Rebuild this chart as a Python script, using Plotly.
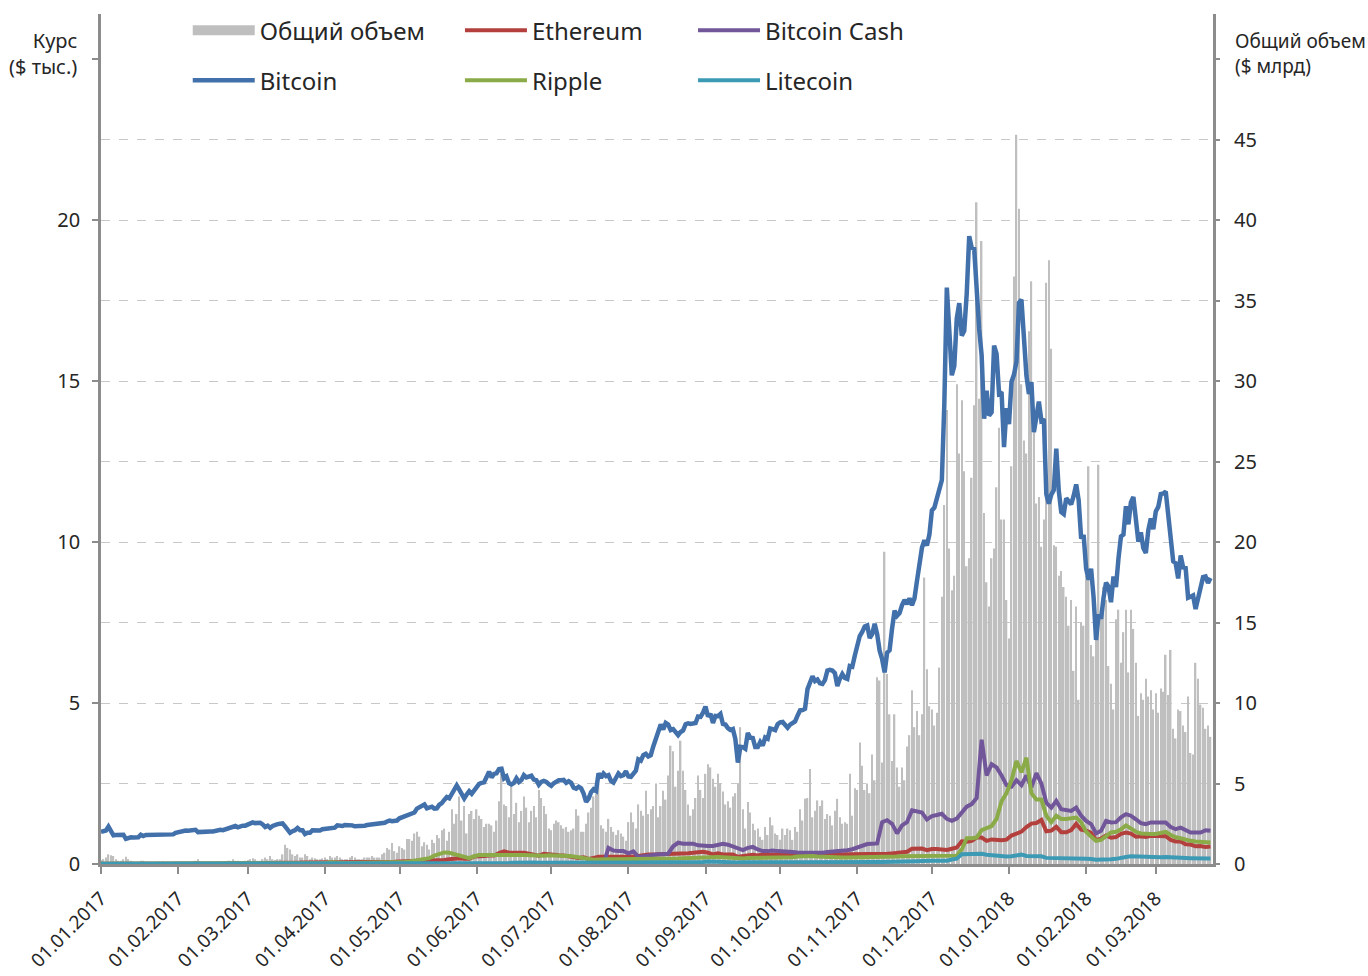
import pandas as pd
import plotly.graph_objects as go

# ---------------- DATA ----------------
# Bitcoin daily close, $ thousands (01.01.2017 .. 23.03.2018)
btc_2017_01 = [1.00,1.02,1.04,1.16,1.01,0.89,0.90,0.91,0.90,0.91,0.78,0.81,0.83,0.82,0.82,0.83,0.91,0.87,0.90,0.90,0.92,0.92,0.92,0.89,0.89,0.92,0.92,0.92,0.91,0.92,0.97]
btc_2017_02 = [0.99,1.01,1.03,1.04,1.03,1.05,1.06,1.06,0.99,1.00,1.01,1.00,1.00,1.01,1.01,1.03,1.05,1.06,1.05,1.08,1.12,1.12,1.18,1.18,1.14,1.18,1.19,1.19]
btc_2017_03 = [1.22,1.26,1.29,1.27,1.27,1.28,1.23,1.15,1.19,1.12,1.18,1.23,1.24,1.25,1.26,1.17,1.07,0.97,1.02,1.05,1.12,1.05,1.05,0.93,0.97,0.97,1.05,1.05,1.04,1.04,1.08]
btc_2017_04 = [1.09,1.10,1.14,1.14,1.13,1.20,1.19,1.18,1.21,1.21,1.22,1.20,1.17,1.17,1.17,1.18,1.19,1.21,1.22,1.25,1.26,1.24,1.25,1.27,1.28,1.32,1.35,1.33,1.35,1.35]
btc_2017_05 = [1.42,1.45,1.49,1.54,1.56,1.58,1.60,1.72,1.76,1.79,1.85,1.73,1.77,1.78,1.72,1.73,1.84,1.89,1.99,2.08,2.04,2.17,2.32,2.44,2.31,2.20,2.04,2.16,2.26,2.18,2.29]
btc_2017_06 = [2.41,2.49,2.52,2.54,2.70,2.87,2.69,2.80,2.82,2.95,2.96,2.66,2.72,2.51,2.47,2.52,2.66,2.55,2.61,2.76,2.69,2.71,2.74,2.62,2.60,2.46,2.55,2.58,2.55,2.48]
btc_2017_07 = [2.43,2.51,2.56,2.60,2.60,2.61,2.52,2.57,2.52,2.37,2.34,2.40,2.35,2.19,1.93,2.03,2.23,2.32,2.27,2.82,2.67,2.81,2.73,2.76,2.58,2.53,2.67,2.81,2.73,2.76,2.88]
btc_2017_08 = [2.72,2.71,2.81,2.90,3.25,3.21,3.38,3.42,3.34,3.38,3.65,3.88,4.07,4.33,4.18,4.38,4.33,4.16,4.19,4.09,4.00,4.10,4.15,4.34,4.37,4.35,4.38,4.38,4.58,4.57,4.70]
btc_2017_09 = [4.89,4.58,4.66,4.38,4.60,4.59,4.66,4.35,4.33,4.22,4.16,4.19,3.88,3.15,3.64,3.63,3.58,4.07,3.92,3.91,3.63,3.63,3.79,3.68,3.93,3.89,4.21,4.19,4.16,4.34]
btc_2017_10 = [4.40,4.41,4.32,4.23,4.33,4.37,4.43,4.61,4.77,4.78,4.82,5.43,5.64,5.83,5.68,5.73,5.61,5.59,5.71,6.01,6.03,6.01,5.93,5.53,5.75,5.90,5.78,5.75,6.15,6.13,6.47]
btc_2017_11 = [6.77,7.08,7.21,7.38,7.41,7.02,7.14,7.46,7.14,6.62,6.36,5.95,6.56,6.64,7.32,7.87,7.71,7.79,8.04,8.20,8.07,8.25,8.04,8.25,8.79,9.33,9.82,10.06,9.89,10.23]
btc_2017_12 = [10.98,11.07,11.32,11.66,11.92,14.29,17.90,16.57,15.18,15.46,16.94,17.42,16.41,16.56,17.71,19.50,19.14,19.11,17.78,16.62,15.80,13.83,14.70,13.93,14.03,16.10,15.84,14.61,14.66,12.95,14.16]
btc_2018_01 = [13.66,14.98,15.20,15.60,17.43,17.53,16.48,15.17,14.60,14.97,13.41,13.98,14.36,13.77,13.82,11.49,11.19,11.47,11.61,12.90,11.60,10.93,10.87,11.36,11.26,11.17,11.44,11.79,11.30,10.11,10.22]
btc_2018_02 = [9.17,8.83,9.17,8.28,6.96,7.75,7.62,8.27,8.74,8.62,8.13,8.93,8.60,9.49,10.17,10.23,11.11,10.55,11.23,11.40,10.69,10.01,10.30,9.81,9.66,10.37,10.73,10.40]
btc_2018_03 = [10.95,11.09,11.49,11.51,11.57,10.78,9.97,9.40,9.34,8.87,9.58,9.21,9.19,8.27,8.30,8.34,7.92,8.22,8.63,8.91,8.93,8.73,8.88]

# Total daily volume, $ billions
vol_2017_01 = [0.25,0.3,0.4,0.6,0.55,0.5,0.3,0.2,0.2,0.3,0.45,0.3,0.2,0.15,0.1,0.15,0.2,0.2,0.15,0.1,0.1,0.1,0.1,0.15,0.1,0.15,0.1,0.1,0.1,0.1,0.15]
vol_2017_02 = [0.15,0.1,0.1,0.1,0.1,0.1,0.15,0.2,0.3,0.15,0.1,0.1,0.1,0.1,0.1,0.1,0.15,0.1,0.1,0.15,0.2,0.2,0.3,0.2,0.2,0.15,0.15,0.2]
vol_2017_03 = [0.25,0.3,0.35,0.3,0.2,0.2,0.3,0.4,0.3,0.5,0.3,0.25,0.3,0.3,0.6,1.2,1.0,0.9,0.6,0.5,0.6,0.4,0.4,0.6,0.5,0.3,0.4,0.35,0.3,0.3,0.35]
vol_2017_04 = [0.4,0.3,0.5,0.4,0.4,0.5,0.4,0.3,0.3,0.3,0.4,0.5,0.4,0.3,0.3,0.3,0.4,0.4,0.4,0.5,0.4,0.4,0.4,0.6,0.7,1.0,0.9,1.3,0.8,0.7]
vol_2017_05 = [1.1,1.0,0.9,1.55,1.55,1.45,1.9,2.0,1.7,1.1,1.35,1.2,0.9,1.5,1.3,1.8,1.6,2.1,2.2,1.45,2.0,3.4,2.5,3.1,4.2,2.7,3.6,1.9,3.1,3.3,2.8]
vol_2017_06 = [3.4,3.0,2.8,2.3,2.5,2.5,2.4,2.0,2.7,3.9,5.6,3.7,3.6,2.9,4.9,3.1,3.8,2.6,3.3,4.2,3.5,2.6,3.3,3.6,2.9,4.6,4.1,3.6,3.1,2.2]
vol_2017_07 = [2.1,2.5,2.7,2.6,2.4,2.2,2.3,2.0,2.1,2.2,3.4,3.0,2.0,2.0,2.5,3.2,3.5,4.2,4.35,5.0,2.4,2.2,2.0,2.8,2.3,2.0,1.8,2.1,1.9,1.7,1.45]
vol_2017_08 = [2.6,3.2,2.6,2.2,3.7,3.3,3.0,4.55,3.1,3.4,3.6,5.0,2.9,3.6,4.55,4.0,5.5,7.35,7.0,4.8,5.8,7.66,5.8,4.6,3.7,3.0,3.4,4.1,5.5,4.6,4.1]
vol_2017_09 = [5.6,6.2,6.0,5.3,4.8,5.6,5.0,4.5,3.7,3.9,3.5,4.2,4.4,5.0,8.5,3.4,2.2,3.85,3.2,2.5,2.1,2.2,1.7,1.5,2.3,1.8,2.9,2.4,1.9,1.8]
vol_2017_10 = [1.5,2.2,1.8,2.2,2.1,1.5,2.3,2.0,3.4,2.7,4.05,4.1,5.9,2.9,3.3,3.95,3.6,3.95,2.8,3.1,3.0,2.4,3.3,4.05,2.9,2.5,2.6,2.5,5.6,3.0,4.7]
vol_2017_11 = [4.6,7.55,6.1,4.6,5.0,4.4,6.8,5.2,11.6,11.4,6.3,19.4,11.8,9.3,6.4,9.3,6.0,4.8,6.0,5.2,7.3,8.0,10.8,8.5,9.5,8.0,9.3,17.8,12.1,9.8]
vol_2017_12 = [9.6,8.6,9.4,12.2,16.6,22.3,28.2,19.6,17.0,17.9,29.8,25.5,28.8,24.4,18.5,19.0,24.0,28.5,41.1,28.9,38.7,21.8,17.5,16.0,19.0,19.6,23.4,27.1,21.4,21.4,16.4]
vol_2018_01 = [14.0,24.7,36.5,45.3,40.7,29.8,26.3,25.5,33.1,36.2,28.0,22.4,22.8,19.7,21.4,36.1,37.5,32.0,19.8,19.7,17.9,18.2,17.2,16.6,14.8,16.4,12.0,16.0,10.2,15.0,14.8]
vol_2018_02 = [17.9,24.7,13.6,12.9,15.3,24.8,15.6,17.2,16.4,12.3,11.2,9.6,15.2,15.8,12.5,14.4,15.8,11.9,15.8,14.6,12.5,9.2,10.6,10.2,11.5,10.4,10.8,9.6]
vol_2018_03 = [10.6,9.4,10.9,10.7,13.0,10.5,13.3,8.4,7.8,9.6,9.5,8.6,8.2,10.4,6.9,6.8,12.5,11.5,9.9,9.7,8.4,8.6,7.9]

# Other coins every second day from 01.01.2017 (Ethereum, Litecoin: $ thousands; Ripple: $)
eth_2017_h1 = [0.008,0.0095,0.011,0.010,0.010,0.010,0.0105,0.0105,0.0103,0.0105,0.011,0.0107,0.0105,0.0106,0.0106,0.0107,
               0.0107,0.0112,0.0113,0.0114,0.0112,0.0113,0.0128,0.0125,0.0127,0.0128,0.0126,0.0127,0.0128,0.0157,
               0.019,0.019,0.020,0.019,0.021,0.024,0.029,0.044,0.043,0.042,0.043,0.050,0.050,0.049,0.050,
               0.050,0.044,0.043,0.043,0.044,0.043,0.046,0.048,0.048,0.048,0.048,0.050,0.054,0.063,0.068,
               0.078,0.080,0.094,0.088,0.088,0.088,0.088,0.090,0.094,0.125,0.148,0.172,0.178,0.160,0.162,0.230,
               0.222,0.245,0.265,0.262,0.336,0.395,0.349,0.359,0.354,0.352,0.320,0.302,0.260,0.315,0.293]
eth_2017_h2 = [0.285,0.270,0.266,0.240,0.236,0.190,0.206,0.155,0.190,0.227,0.227,0.225,0.205,0.200,0.197,
               0.225,0.225,0.253,0.270,0.296,0.297,0.300,0.299,0.302,0.300,0.316,0.319,0.333,0.347,0.372,0.383,
               0.350,0.296,0.335,0.297,0.293,0.297,0.225,0.247,0.285,0.283,0.262,0.295,0.289,0.302,0.302,
               0.298,0.292,0.308,0.308,0.297,0.336,0.336,0.314,0.300,0.298,0.297,0.298,0.296,0.298,0.307,
               0.291,0.305,0.300,0.293,0.320,0.306,0.316,0.330,0.355,0.367,0.381,0.474,0.472,0.480,0.427,
               0.466,0.465,0.456,0.434,0.473,0.512,0.702,0.694,0.719,0.820,0.822,0.718,0.763,0.740,0.738,0.756]
eth_2018 = [0.884,0.942,1.005,1.148,1.256,1.274,1.367,1.014,1.037,1.155,0.988,0.987,1.056,1.245,1.069,
            1.036,0.965,0.740,0.790,0.884,0.814,0.836,0.937,0.974,0.943,0.850,0.864,0.840,0.878,
            0.870,0.856,0.864,0.750,0.700,0.700,0.611,0.603,0.550,0.558,0.525,0.540]

xrp_2017_h1 = [0.006,0.006,0.007,0.007,0.007,0.007,0.007,0.007,0.007,0.007,0.007,0.007,0.007,0.007,0.007,0.007,
               0.007,0.007,0.007,0.007,0.007,0.007,0.007,0.007,0.006,0.006,0.006,0.006,0.006,0.006,
               0.006,0.006,0.006,0.007,0.008,0.009,0.009,0.010,0.009,0.008,0.008,0.009,0.011,0.014,0.022,
               0.027,0.057,0.040,0.030,0.032,0.032,0.033,0.032,0.032,0.034,0.037,0.034,0.036,0.045,0.050,
               0.05,0.06,0.08,0.10,0.12,0.15,0.18,0.26,0.31,0.36,0.35,0.31,0.26,0.22,0.18,0.24,
               0.28,0.28,0.27,0.27,0.28,0.28,0.27,0.27,0.28,0.28,0.27,0.28,0.27,0.26,0.27]
xrp_2017_h2 = [0.27,0.26,0.26,0.25,0.23,0.20,0.19,0.15,0.13,0.14,0.16,0.15,0.15,0.15,0.15,
               0.15,0.14,0.14,0.14,0.14,0.15,0.15,0.15,0.15,0.16,0.17,0.18,0.19,0.20,0.20,0.21,
               0.22,0.21,0.22,0.21,0.20,0.19,0.16,0.17,0.19,0.19,0.18,0.19,0.20,0.20,0.20,
               0.20,0.21,0.21,0.23,0.24,0.26,0.25,0.23,0.22,0.21,0.20,0.21,0.20,0.20,0.20,
               0.20,0.21,0.21,0.21,0.21,0.21,0.21,0.22,0.23,0.24,0.24,0.25,0.25,0.25,0.25,
               0.25,0.25,0.23,0.23,0.24,0.26,0.45,0.80,0.80,0.82,1.05,1.12,1.18,1.40,1.95,2.20]
xrp_2018 = [2.60,3.20,2.85,3.30,2.20,2.00,2.00,1.50,1.30,1.50,1.40,1.40,1.42,1.44,1.30,
            1.00,0.85,0.72,0.75,0.85,0.98,1.00,1.08,1.20,1.10,1.00,0.95,0.93,0.93,
            0.93,0.95,1.00,0.90,0.83,0.80,0.75,0.72,0.70,0.70,0.68,0.67]

ltc_2017_h1 = [0.004,0.004,0.004,0.004,0.004,0.004,0.004,0.004,0.004,0.004,0.004,0.004,0.004,0.004,0.004,0.004,
               0.004,0.004,0.004,0.004,0.004,0.004,0.004,0.004,0.004,0.004,0.004,0.004,0.004,0.004,
               0.004,0.004,0.004,0.004,0.004,0.004,0.004,0.004,0.004,0.004,0.004,0.004,0.005,0.006,0.007,
               0.008,0.009,0.009,0.010,0.010,0.010,0.011,0.012,0.012,0.012,0.014,0.015,0.015,0.015,0.015,
               0.015,0.018,0.022,0.028,0.028,0.028,0.025,0.024,0.023,0.025,0.025,0.024,0.023,0.023,0.023,0.025,
               0.027,0.030,0.031,0.032,0.031,0.030,0.034,0.041,0.048,0.046,0.046,0.043,0.041,0.043,0.042]
ltc_2017_h2 = [0.041,0.051,0.050,0.048,0.048,0.045,0.047,0.039,0.044,0.045,0.044,0.042,0.044,0.043,0.043,
               0.043,0.043,0.043,0.047,0.047,0.046,0.045,0.045,0.045,0.046,0.051,0.052,0.056,0.060,0.064,0.062,
               0.080,0.071,0.080,0.080,0.064,0.066,0.048,0.052,0.055,0.051,0.052,0.054,0.055,0.057,0.054,
               0.054,0.053,0.054,0.053,0.052,0.058,0.066,0.063,0.062,0.061,0.058,0.056,0.058,0.056,0.057,
               0.055,0.055,0.055,0.058,0.062,0.064,0.063,0.068,0.071,0.071,0.086,0.085,0.088,0.094,0.085,
               0.098,0.101,0.103,0.103,0.140,0.165,0.300,0.310,0.300,0.330,0.320,0.290,0.270,0.280,0.250,0.230]
ltc_2018 = [0.240,0.250,0.290,0.250,0.240,0.240,0.240,0.190,0.190,0.190,0.175,0.170,0.170,0.180,0.170,
            0.165,0.155,0.130,0.140,0.160,0.150,0.160,0.200,0.220,0.240,0.230,0.220,0.220,0.215,
            0.210,0.210,0.215,0.200,0.190,0.190,0.185,0.180,0.170,0.175,0.170,0.170]

# Bitcoin Cash, $ thousands, every second day from 02.06.2017
bch_2017 = [0,0,0,0,0,0,0,0,0,0,0,0,0,0,0,
            0,0,0,0,0,0,0,0,0,0,0,0.50,0.42,0.40,0.40,
            0.33,0.39,0.22,0.24,0.28,0.31,0.30,0.30,0.32,0.55,0.66,0.63,0.62,0.63,0.58,0.56,
            0.56,0.56,0.60,0.63,0.60,0.55,0.48,0.43,0.50,0.53,0.45,0.40,0.40,0.42,0.40,
            0.40,0.38,0.37,0.36,0.36,0.34,0.33,0.33,0.35,0.37,0.38,0.38,0.40,0.43,0.46,
            0.52,0.59,0.62,0.63,0.64,1.30,1.36,1.25,0.95,1.20,1.30,1.67,1.65,1.60,1.38,
            1.49,1.52,1.56,1.40,1.34,1.41,1.60,1.78,1.86,2.05,3.86,2.75,3.10,3.00,2.75,2.45]
bch_2018 = [2.40,2.60,2.45,2.75,2.38,2.82,2.50,1.90,1.75,1.96,1.70,1.68,1.65,1.75,1.50,
            1.34,1.24,0.95,1.03,1.34,1.29,1.30,1.45,1.55,1.50,1.39,1.27,1.24,1.29,
            1.29,1.29,1.29,1.15,1.08,1.13,1.05,0.98,0.98,0.98,1.05,1.03]

month_ticks = ['2017-01-01','2017-02-01','2017-03-01','2017-04-01','2017-05-01','2017-06-01','2017-07-01',
               '2017-08-01','2017-09-01','2017-10-01','2017-11-01','2017-12-01','2018-01-01','2018-02-01','2018-03-01']
month_labels = ['01.01.2017','01.02.2017','01.03.2017','01.04.2017','01.05.2017','01.06.2017','01.07.2017',
                '01.08.2017','01.09.2017','01.10.2017','01.11.2017','01.12.2017','01.01.2018','01.02.2018','01.03.2018']
left_ticks = [0, 5, 10, 15, 20, 25]
left_labels = ['0', '5', '10', '15', '20', '']
right_ticks = [0, 5, 10, 15, 20, 25, 30, 35, 40, 45, 50]
right_labels = ['0', '5', '10', '15', '20', '25', '30', '35', '40', '45', '']
grid_ticks = [5, 10, 15, 20, 25, 30, 35, 40, 45]

# ---------------- BUILD ----------------
btc = (btc_2017_01 + btc_2017_02 + btc_2017_03 + btc_2017_04 + btc_2017_05 + btc_2017_06 + btc_2017_07 +
       btc_2017_08 + btc_2017_09 + btc_2017_10 + btc_2017_11 + btc_2017_12 + btc_2018_01 + btc_2018_02 + btc_2018_03)
vol = (vol_2017_01 + vol_2017_02 + vol_2017_03 + vol_2017_04 + vol_2017_05 + vol_2017_06 + vol_2017_07 +
       vol_2017_08 + vol_2017_09 + vol_2017_10 + vol_2017_11 + vol_2017_12 + vol_2018_01 + vol_2018_02 + vol_2018_03)
eth = eth_2017_h1 + eth_2017_h2 + eth_2018
xrp = xrp_2017_h1 + xrp_2017_h2 + xrp_2018
ltc = ltc_2017_h1 + ltc_2017_h2 + ltc_2018
bch = bch_2017 + bch_2018

d_btc = pd.date_range('2017-01-01', periods=len(btc), freq='D')
d_vol = pd.date_range('2017-01-01', periods=len(vol), freq='D')
d_eth = pd.date_range('2017-01-01', periods=len(eth), freq='2D')
d_xrp = pd.date_range('2017-01-01', periods=len(xrp), freq='2D')
d_ltc = pd.date_range('2017-01-01', periods=len(ltc), freq='2D')
d_bch = pd.date_range('2017-06-02', periods=len(bch), freq='2D')

FONT = 'Noto Sans'
AX = '#8c8c8c'
TXT = '#262626'
C_VOL = '#bfbfbf'
C_BTC = '#4270aa'
C_ETH = '#b3403c'
C_XRP = '#8aab48'
C_BCH = '#72569a'
C_LTC = '#3d9ab5'

fig = go.Figure()
fig.add_trace(go.Bar(x=d_vol, y=vol, name='Общий объем', marker=dict(color=C_VOL, line=dict(width=0)),
                     showlegend=False, yaxis='y'))
fig.add_trace(go.Scatter(x=[None], y=[None], mode='lines', name='Общий объем', line=dict(color=C_VOL, width=10),
                         legend='legend', legendgroup='vol', yaxis='y3'))
fig.add_trace(go.Scatter(x=d_eth, y=eth, mode='lines', name='Ethereum', line=dict(color=C_ETH, width=4),
                         legend='legend2', legendgroup='eth', yaxis='y2'))
fig.add_trace(go.Scatter(x=d_bch, y=bch, mode='lines', name='Bitcoin Cash', line=dict(color=C_BCH, width=4),
                         legend='legend3', legendgroup='bch', yaxis='y2'))
fig.add_trace(go.Scatter(x=d_btc, y=btc, mode='lines', name='Bitcoin', line=dict(color=C_BTC, width=4.5),
                         legend='legend', legendgroup='btc', yaxis='y2'))
fig.add_trace(go.Scatter(x=d_xrp, y=xrp, mode='lines', name='Ripple', line=dict(color=C_XRP, width=4),
                         legend='legend2', legendgroup='xrp', yaxis='y2'))
fig.add_trace(go.Scatter(x=d_ltc, y=ltc, mode='lines', name='Litecoin', line=dict(color=C_LTC, width=4),
                         legend='legend3', legendgroup='ltc', yaxis='y2'))

legend_common = dict(xanchor='left', yanchor='top', y=1.007, orientation='v',
                     font=dict(family=FONT, size=24, color=TXT),
                     itemwidth=62, tracegroupgap=16, bgcolor='rgba(0,0,0,0)', traceorder='grouped')

fig.update_layout(
    width=1368, height=976,
    margin=dict(l=101, r=155, t=14, b=112, autoexpand=False),
    paper_bgcolor='white', plot_bgcolor='white',
    font=dict(family=FONT, size=20, color=TXT),
    bargap=0.4,
    showlegend=True,
    xaxis=dict(type='date', range=['2017-01-01', '2018-03-24'], tickvals=month_ticks, ticktext=month_labels,
               tickangle=-45, ticks='outside', ticklen=7, tickwidth=2, tickcolor=AX, automargin=False,
               showline=True, linecolor=AX, linewidth=2.5, showgrid=False, zeroline=False,
               tickfont=dict(family=FONT, size=19, color=TXT), ticklabelstandoff=6),
    yaxis=dict(side='right', range=[0, 52.8], tickvals=grid_ticks, showticklabels=False, ticks='', automargin=False,
               showgrid=True, gridcolor='#c8c8c8', griddash='dash', gridwidth=1,
               showline=True, linecolor=AX, linewidth=2.5, zeroline=False, fixedrange=True),
    yaxis2=dict(overlaying='y', side='left', range=[0, 26.4], tickvals=left_ticks, ticktext=left_labels,
                ticks='outside', ticklen=6, tickwidth=2, tickcolor=AX, showline=True, linecolor=AX, linewidth=2.5,
                showgrid=False, zeroline=False, automargin=False,
                tickfont=dict(family=FONT, size=20, color=TXT), ticklabelstandoff=8),
    yaxis3=dict(overlaying='y', side='right', range=[0, 52.8], tickvals=right_ticks, ticktext=right_labels,
                ticks='outside', ticklen=6, tickwidth=2, tickcolor=AX, showline=False, automargin=False,
                showgrid=False, zeroline=False, tickfont=dict(family=FONT, size=20, color=TXT), ticklabelstandoff=10),
    legend=dict(x=0.078, **legend_common),
    legend2=dict(x=0.3228, **legend_common),
    legend3=dict(x=0.5324, **legend_common),
    annotations=[
        dict(text='Курс<br>($ тыс.)', xref='paper', yref='paper', x=-0.0198, y=0.954, xanchor='right', yanchor='middle',
             align='right', showarrow=False, font=dict(family=FONT, size=20, color=TXT)),
        dict(text='Общий объем<br>($ млрд)', xref='paper', yref='paper', x=1.0180, y=0.954, xanchor='left',
             yanchor='middle', align='left', showarrow=False, font=dict(family=FONT, size=19, color=TXT)),
    ],
)

fig.write_html("out.html", config={'displayModeBar': False},
               post_script="document.body.style.margin='0px';document.body.style.overflow='hidden';")
